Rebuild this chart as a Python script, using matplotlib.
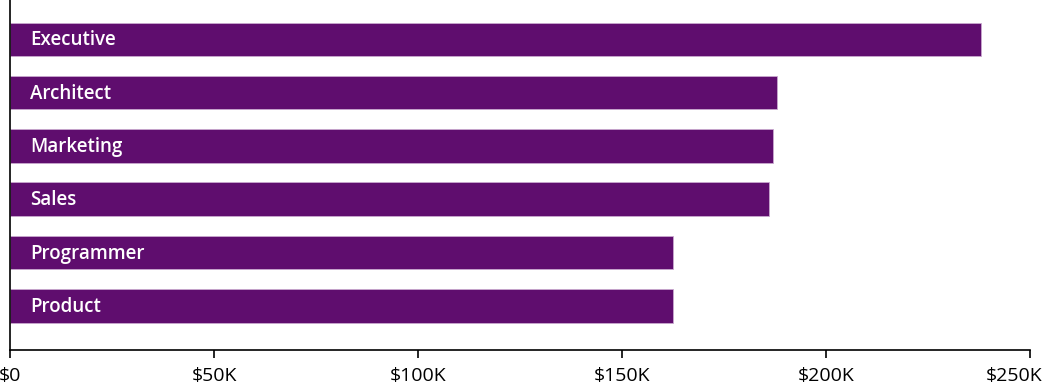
import matplotlib
matplotlib.use("Agg")
import matplotlib.pyplot as plt
import matplotlib.transforms as mtransforms
import numpy as np
from matplotlib.ticker import FuncFormatter

roles = ["Executive", "Architect", "Marketing", "Sales", "Programmer", "Product"]
salaries = [238000, 188000, 187000, 186000, 162500, 162500]
ticks = [0, 50000, 100000, 150000, 200000, 250000]

bar_color = "#5f0d6e"

fig = plt.figure(figsize=(10.48, 3.87), dpi=100)
ax = fig.add_axes([10 / 1048, 1 - 350 / 387, 1020 / 1048, 350 / 387])

pos = np.arange(len(roles))
ax.barh(pos, salaries, height=0.63, color=bar_color, edgecolor="#c9a8cf", linewidth=0.6)

for p, r in zip(pos, roles):
    ax.text(5000, p + 0.02, r, color="white", va="center", ha="left",
            fontsize=13.5, fontweight="semibold", family="Open Sans")

ax.set_xlim(0, 250000)
ax.set_ylim(5.83, -0.74)
ax.set_xticks(ticks)
ax.xaxis.set_major_formatter(FuncFormatter(lambda v, _: "$0" if v == 0 else f"${int(v / 1000)}K"))
ax.set_yticks([])
ax.tick_params(axis="x", length=6, width=1.2, pad=6, colors="black")
labels = ax.get_xticklabels()
for lab in labels:
    lab.set_family("Open Sans")
    lab.set_fontsize(14)
# last label pulled in so it fits in the figure
labels[-1].set_transform(labels[-1].get_transform() +
                         mtransforms.ScaledTranslation(-0.16, 0, fig.dpi_scale_trans))
ax.spines["top"].set_visible(False)
ax.spines["right"].set_visible(False)
for s in ("left", "bottom"):
    ax.spines[s].set_linewidth(1.2)

fig.savefig("out.png", dpi=100)
